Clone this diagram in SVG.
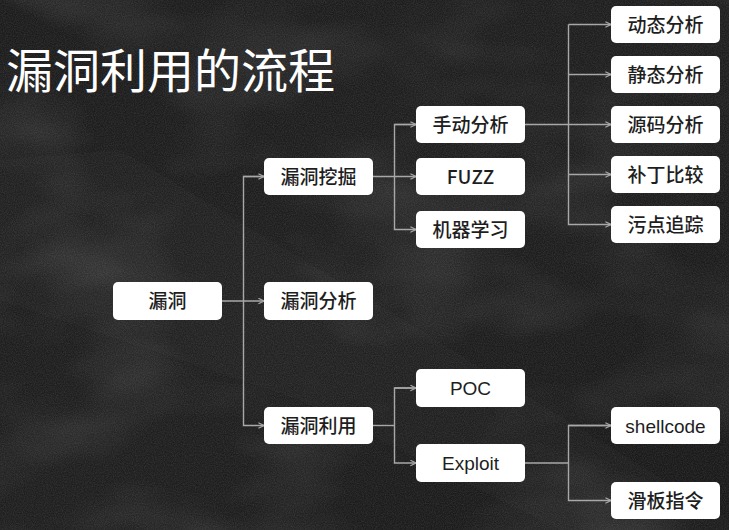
<svg xmlns="http://www.w3.org/2000/svg" width="729" height="530" viewBox="0 0 729 530">
<defs>
<style>
.box{fill:#ffffff;}
.lbl{font-family:"Liberation Sans","Noto Sans CJK SC",sans-serif;font-size:19px;fill:#1e1e1e;text-anchor:middle;font-weight:500;}
.lat{font-weight:400;}
.cjk{font-family:"Noto Sans CJK SC",sans-serif;}
.ln{fill:none;stroke:#a8a8a8;stroke-width:1.4;}
.title{font-family:"Noto Sans CJK SC",sans-serif;font-size:47px;fill:#ffffff;}
</style>
<marker id="arr" viewBox="0 0 10 10" refX="9" refY="5" markerWidth="7" markerHeight="7" markerUnits="userSpaceOnUse" orient="auto">
<path d="M1,1 L9,5 L1,9" fill="none" stroke="#a8a8a8" stroke-width="1.6"/>
</marker>
<linearGradient id="bg" x1="0" y1="0" x2="1" y2="1">
<stop offset="0" stop-color="#1c1c1c"/>
<stop offset="0.5" stop-color="#1f1f1f"/>
<stop offset="1" stop-color="#191919"/>
</linearGradient>
<filter id="grain" x="0" y="0" width="100%" height="100%">
<feTurbulence type="fractalNoise" baseFrequency="0.9" numOctaves="2" seed="3"/>
<feColorMatrix type="matrix" values="0 0 0 0 1  0 0 0 0 1  0 0 0 0 1  0 0 0 0.16 -0.05"/>
</filter>
<filter id="blot" x="0" y="0" width="100%" height="100%">
<feTurbulence type="fractalNoise" baseFrequency="0.006 0.012" numOctaves="3" seed="7"/>
<feColorMatrix type="matrix" values="0 0 0 0 1  0 0 0 0 1  0 0 0 0 1  0 0 0 0.22 -0.1"/>
</filter>
</defs>
<g id="background">
<rect width="729" height="530" fill="url(#bg)"/>
<rect width="729" height="530" filter="url(#blot)"/>
<polygon points="0,160 120,150 420,330 729,520 729,530 560,530 300,400 0,300" fill="#ffffff" opacity="0.02"/>
<rect width="729" height="530" filter="url(#grain)"/>
</g>
<text id="title" class="title" x="6" y="88">漏洞利用的流程</text>
<g id="connectors">
<line class="ln" x1="222" y1="301" x2="264" y2="301" marker-end="url(#arr)"/>
<path class="ln" d="M264,176.5 H243.5 V425.5 H264" marker-end="url(#arr)"/>
<path class="ln" d="M243.5,176.5 H264" marker-end="url(#arr)"/>
<line class="ln" x1="373" y1="176.5" x2="416" y2="176.5" marker-end="url(#arr)"/>
<path class="ln" d="M416,124.5 H394.5 V229.5 H416" marker-end="url(#arr)"/>
<path class="ln" d="M394.5,124.5 H416" marker-end="url(#arr)"/>
<line class="ln" x1="525" y1="124.5" x2="611" y2="124.5" marker-end="url(#arr)"/>
<path class="ln" d="M568.5,24.5 V224.5 H611" marker-end="url(#arr)"/>
<path class="ln" d="M568.5,24.5 H611" marker-end="url(#arr)"/>
<path class="ln" d="M568.5,74.5 H611" marker-end="url(#arr)"/>
<path class="ln" d="M568.5,174.5 H611" marker-end="url(#arr)"/>
<line class="ln" x1="373" y1="425.5" x2="394.5" y2="425.5" stroke-width="2.4"/>
<path class="ln" d="M416,388 H394.5 V463 H416" marker-end="url(#arr)"/>
<path class="ln" d="M394.5,388 H416" marker-end="url(#arr)"/>
<line class="ln" x1="525" y1="463" x2="568.5" y2="463" stroke-width="1.8"/>
<path class="ln" d="M611,425.5 H568.5 V500.5 H611" marker-end="url(#arr)"/>
<path class="ln" d="M568.5,425.5 H611" marker-end="url(#arr)"/>
</g>
<g id="n-loudong"><rect class="box" x="113" y="282" width="109" height="38" rx="5"/><text class="lbl" x="167.5" y="308">漏洞</text></g>
<g id="n-wajue"><rect class="box" x="264" y="158" width="109" height="37" rx="5"/><text class="lbl" x="318.5" y="183.5">漏洞挖掘</text></g>
<g id="n-fenxi"><rect class="box" x="264" y="282" width="109" height="38" rx="5"/><text class="lbl" x="318.5" y="308">漏洞分析</text></g>
<g id="n-liyong"><rect class="box" x="264" y="407" width="109" height="37" rx="5"/><text class="lbl" x="318.5" y="432.5">漏洞利用</text></g>
<g id="n-shoudong"><rect class="box" x="416" y="106" width="109" height="37" rx="5"/><text class="lbl" x="470.5" y="131.5">手动分析</text></g>
<g id="n-fuzz"><rect class="box" x="416" y="158" width="109" height="37" rx="5"/><text class="lbl cjk" x="470.5" y="183.5">FUZZ</text></g>
<g id="n-jiqi"><rect class="box" x="416" y="211" width="109" height="37" rx="5"/><text class="lbl" x="470.5" y="236.5">机器学习</text></g>
<g id="n-poc"><rect class="box" x="416" y="369" width="109" height="38" rx="5"/><text class="lbl lat" x="470.5" y="395">POC</text></g>
<g id="n-exploit"><rect class="box" x="416" y="444" width="109" height="38" rx="5"/><text class="lbl lat" x="470.5" y="470">Exploit</text></g>
<g id="n-dongtai"><rect class="box" x="611" y="6" width="109" height="37" rx="5"/><text class="lbl" x="665.5" y="31.5">动态分析</text></g>
<g id="n-jingtai"><rect class="box" x="611" y="56" width="109" height="37" rx="5"/><text class="lbl" x="665.5" y="81.5">静态分析</text></g>
<g id="n-yuanma"><rect class="box" x="611" y="106" width="109" height="37" rx="5"/><text class="lbl" x="665.5" y="131.5">源码分析</text></g>
<g id="n-buding"><rect class="box" x="611" y="156" width="109" height="37" rx="5"/><text class="lbl" x="665.5" y="181.5">补丁比较</text></g>
<g id="n-wudian"><rect class="box" x="611" y="206" width="109" height="37" rx="5"/><text class="lbl" x="665.5" y="231.5">污点追踪</text></g>
<g id="n-shellcode"><rect class="box" x="611" y="407" width="109" height="37" rx="5"/><text class="lbl lat" x="665.5" y="432.5">shellcode</text></g>
<g id="n-huaban"><rect class="box" x="611" y="482" width="109" height="37" rx="5"/><text class="lbl" x="665.5" y="507.5">滑板指令</text></g>
</svg>
